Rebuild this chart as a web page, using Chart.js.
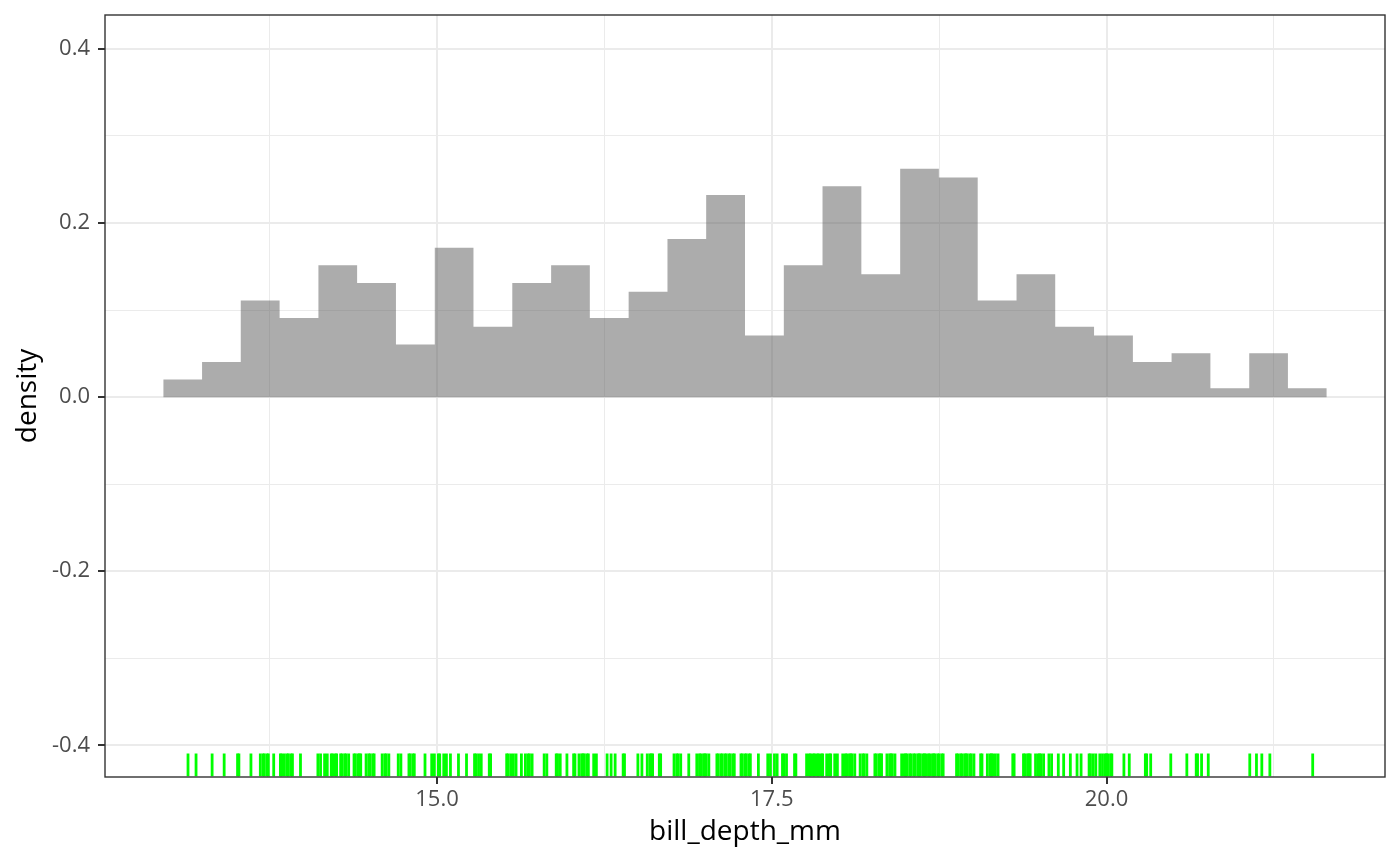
<!DOCTYPE html>
<html>
<head>
<meta charset="utf-8">
<script src="https://cdn.jsdelivr.net/npm/chart.js@4.4.1/dist/chart.umd.min.js"></script>
<style>
  html, body { margin: 0; padding: 0; background: #fff; }
  #wrap { width: 1400px; height: 866px; }
</style>
</head>
<body>
<div id="wrap"><canvas id="myChart" width="1400" height="866"></canvas></div>
<script>
// histogram: 30 bins, 31 edges, density per bin
const binEdges = [12.955, 13.245, 13.534, 13.824, 14.114, 14.403, 14.693, 14.983, 15.272, 15.562,
  15.852, 16.141, 16.431, 16.721, 17.010, 17.300, 17.590, 17.879, 18.169, 18.459,
  18.748, 19.038, 19.328, 19.617, 19.907, 20.197, 20.486, 20.776, 21.066, 21.355, 21.645];
const density = [0.0202, 0.0404, 0.1110, 0.0908, 0.1514, 0.1312, 0.0606, 0.1716, 0.0808, 0.1312,
  0.1514, 0.0908, 0.1211, 0.1817, 0.2322, 0.0707, 0.1514, 0.2423, 0.1413, 0.2624,
  0.2524, 0.1110, 0.1413, 0.0808, 0.0707, 0.0404, 0.0505, 0.0101, 0.0505, 0.0101];

const rugDepth = [
  13.14, 13.20, 13.32, 13.41, 13.51, 13.52, 13.61,
  13.68, 13.70, 13.71, 13.73, 13.74, 13.78,
  13.83, 13.84, 13.86, 13.88, 13.89, 13.91, 13.92, 13.98,
  14.11, 14.13, 14.16, 14.18, 14.21, 14.22, 14.24, 14.25,
  14.28, 14.29, 14.31, 14.32, 14.34,
  14.38, 14.39, 14.41, 14.42, 14.43,
  14.47, 14.49, 14.50, 14.52, 14.53,
  14.59, 14.61, 14.62, 14.64,
  14.71, 14.73,
  14.79, 14.80, 14.82, 14.83,
  14.91,
  14.96, 14.98, 15.01, 15.02, 15.05, 15.07,
  15.10, 15.16, 15.22,
  15.28, 15.29, 15.31, 15.33,
  15.39, 15.40,
  15.52, 15.53, 15.55, 15.57, 15.59,
  15.63,
  15.66, 15.68, 15.69, 15.71,
  15.80, 15.82,
  15.89, 15.90, 15.92,
  15.97,
  16.02, 16.03,
  16.06, 16.08, 16.09, 16.10, 16.12, 16.13,
  16.17, 16.19,
  16.27, 16.30, 16.33,
  16.39, 16.40,
  16.50, 16.53,
  16.57, 16.59, 16.60, 16.61,
  16.66, 16.67,
  16.77, 16.79, 16.80, 16.82,
  16.88,
  16.94, 16.96, 16.97, 16.99, 17.00, 17.01, 17.03,
  17.09, 17.10, 17.12, 17.13, 17.15, 17.16, 17.18, 17.19, 17.21, 17.22,
  17.27, 17.28, 17.30, 17.31, 17.33, 17.34,
  17.40,
  17.47, 17.49, 17.52, 17.54,
  17.58, 17.59, 17.61,
  17.67, 17.68,
  17.76, 17.78, 17.79, 17.81, 17.82, 17.84, 17.85, 17.87, 17.88,
  17.91, 17.93, 17.94,
  17.97, 17.99,
  18.03, 18.05, 18.06, 18.08, 18.09, 18.10, 18.12,
  18.16, 18.18, 18.19, 18.21,
  18.27, 18.28, 18.30, 18.31, 18.32,
  18.36, 18.38, 18.39, 18.40, 18.42,
  18.47, 18.49, 18.50, 18.51, 18.53, 18.54, 18.56, 18.57, 18.59, 18.60,
  18.61, 18.63, 18.64, 18.65, 18.67, 18.68, 18.70, 18.71, 18.72, 18.74, 18.75, 18.77, 18.78,
  18.88, 18.89, 18.91, 18.92, 18.94, 18.95, 18.96, 18.98, 18.99, 19.01,
  19.06, 19.07,
  19.11, 19.13, 19.14, 19.15, 19.17, 19.19,
  19.30, 19.31,
  19.38, 19.39, 19.41, 19.42, 19.43,
  19.47, 19.49, 19.50, 19.51, 19.53,
  19.57, 19.59,
  19.64, 19.68, 19.73, 19.78, 19.81,
  19.87, 19.88, 19.90, 19.92,
  19.95,
  19.97, 19.99, 20.00, 20.01, 20.03, 20.04,
  20.13, 20.17,
  20.29, 20.30, 20.33,
  20.48, 20.60,
  20.67, 20.68, 20.71,
  20.76,
  21.07, 21.12, 21.16, 21.22,
  21.54
];
const rugY = -0.4225;

const xTicks = [13.75, 15, 16.25, 17.5, 18.75, 20, 21.25];
const xMajor = [15, 17.5, 20];
const yTicks = [-0.4, -0.3, -0.2, -0.1, 0, 0.1, 0.2, 0.3, 0.4];
const yMajor = [-0.4, -0.2, 0, 0.2, 0.4];

const isIn = (v, list) => list.some(m => Math.abs(m - v) < 1e-6);

// histogram outline as step points: each edge carries the density of the bin to its right
// (last edge repeats the last bin so the final step closes)
const histPoints = binEdges.map((x, i) => ({ x: x, y: density[Math.min(i, density.length - 1)] }));

const panelBorder = {
  id: "panelBorder",
  afterDraw(chart) {
    const { ctx, chartArea: a } = chart;
    ctx.save();
    ctx.strokeStyle = "#333333";
    ctx.lineWidth = 1.4;
    ctx.strokeRect(a.left, a.top, a.right - a.left, a.bottom - a.top);
    ctx.restore();
  },
};

const tickFont = { family: "Open Sans", size: 22 };
const titleFont = { family: "Open Sans", size: 28 };

const ctx = document.getElementById("myChart");

new Chart(ctx, {
  type: "scatter",
  data: {
    datasets: [
      {
        type: "line",
        data: histPoints,
        stepped: "before",
        fill: "origin",
        backgroundColor: "rgba(89,89,89,0.5)",
        borderColor: "rgba(0,0,0,0)",
        borderWidth: 0,
        pointRadius: 0,
        tension: 0,
      },
      {
        type: "scatter",
        data: rugDepth.map(x => ({ x: x, y: rugY })),
        pointStyle: "line",
        rotation: 90,
        radius: 11.4,
        borderColor: "#00FF00",
        borderWidth: 2.8,
      },
    ],
  },
  options: {
    responsive: false,
    animation: false,
    devicePixelRatio: 1,
    events: [],
    layout: { padding: { top: 15, right: 15, left: 0, bottom: 0 } },
    plugins: { legend: { display: false }, tooltip: { enabled: false } },
    scales: {
      x: {
        type: "linear",
        min: 12.52,
        max: 22.08,
        offset: false,
        afterBuildTicks: s => { s.ticks = xTicks.map(v => ({ value: v })); },
        afterFit: s => { s.height = 89; s.paddingLeft = 0; s.paddingRight = 0; },
        border: { display: false },
        grid: {
          offset: false,
          color: "#EBEBEB",
          lineWidth: c => (isIn(c.tick.value, xMajor) ? 2 : 1),
          tickColor: c => (isIn(c.tick.value, xMajor) ? "#333333" : "rgba(0,0,0,0)"),
          tickLength: 7,
          tickWidth: 2,
        },
        ticks: {
          autoSkip: false,
          maxRotation: 0,
          padding: 3,
          color: "#4D4D4D",
          font: tickFont,
          callback: v => (isIn(v, xMajor) ? v.toFixed(1) : ""),
        },
        title: {
          display: true,
          text: "bill_depth_mm",
          color: "#000000",
          font: titleFont,
          padding: { top: 0, bottom: 17 },
        },
      },
      y: {
        type: "linear",
        min: -0.4364,
        max: 0.439,
        afterBuildTicks: s => { s.ticks = yTicks.map(v => ({ value: v })); },
        afterFit: s => { s.width = 105; s.paddingTop = 0; s.paddingBottom = 0; },
        border: { display: false },
        grid: {
          color: "#EBEBEB",
          lineWidth: c => (isIn(c.tick.value, yMajor) ? 2 : 1),
          tickColor: c => (isIn(c.tick.value, yMajor) ? "#333333" : "rgba(0,0,0,0)"),
          tickLength: 7,
          tickWidth: 2,
        },
        ticks: {
          autoSkip: false,
          padding: 8,
          color: "#4D4D4D",
          font: tickFont,
          callback: v => (isIn(v, yMajor) ? v.toFixed(1) : ""),
        },
        title: {
          display: true,
          text: "density",
          color: "#000000",
          font: titleFont,
          padding: { top: 11, bottom: 0 },
        },
      },
    },
  },
  plugins: [panelBorder],
});
</script>
</body>
</html>
